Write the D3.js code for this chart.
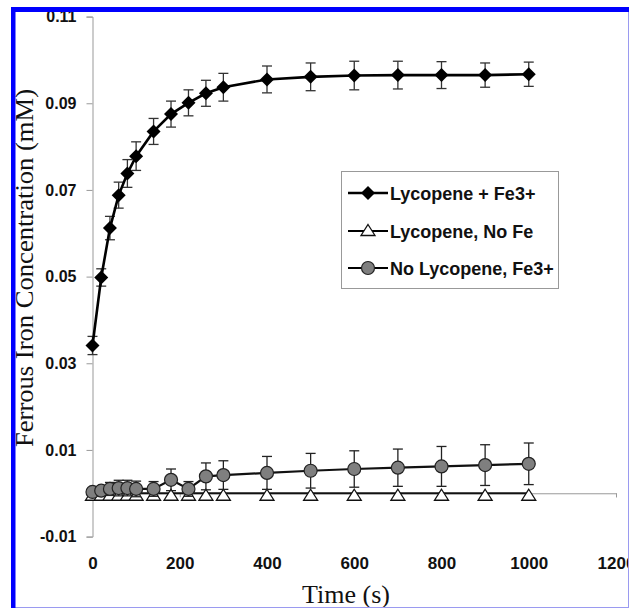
<!DOCTYPE html>
<html>
<head>
<meta charset="utf-8">
<script src="https://cdn.jsdelivr.net/npm/d3@7"></script>
<style>
  body { margin: 0; background: #fff; }
  svg { display: block; }
</style>
</head>
<body>
<div id="plot"></div>
<script>
// time points (s)
var times = [0, 20, 40, 60, 80, 100, 140, 180, 220, 260, 300, 400, 500, 600, 700, 800, 900, 1000];

// Lycopene + Fe3+
var lycFe    = [0.0341, 0.0498, 0.0612, 0.0688, 0.0738, 0.0778, 0.0835, 0.0875, 0.0901, 0.0923, 0.0937, 0.0955, 0.0961, 0.0964, 0.0965, 0.0965, 0.0965, 0.0967];
var lycFeErr = [0.0021, 0.0020, 0.0027, 0.0030, 0.0032, 0.0033, 0.0030, 0.0030, 0.0030, 0.0030, 0.0032, 0.0031, 0.0032, 0.0033, 0.0032, 0.0031, 0.0028, 0.0028];

// Lycopene, No Fe
var lycNoFe    = [0, 0, 0, 0, 0, 0, 0, 0, 0, 0, 0, 0, 0, 0, 0, 0, 0, 0];
var lycNoFeErr = [0, 0, 0, 0, 0, 0, 0, 0, 0, 0, 0, 0, 0, 0, 0, 0, 0, 0];

// No Lycopene, Fe3+
var noLycFe    = [0.0003, 0.0006, 0.0010, 0.0012, 0.0012, 0.0010, 0.0010, 0.0031, 0.0010, 0.0039, 0.0042, 0.0047, 0.0052, 0.0056, 0.0059, 0.0062, 0.0065, 0.0068];
var noLycFeErr = [0.0004, 0.0005, 0.0015, 0.0018, 0.0018, 0.0018, 0.0017, 0.0025, 0.0017, 0.0031, 0.0033, 0.0038, 0.0040, 0.0042, 0.0043, 0.0046, 0.0047, 0.0048];

var seriesNames = ["Lycopene + Fe3+", "Lycopene, No Fe", "No Lycopene, Fe3+"];
var xTicks = [0, 200, 400, 600, 800, 1000, 1200];
var yTicks = [-0.01, 0.01, 0.03, 0.05, 0.07, 0.09, 0.11];

var W = 629, H = 608;

var svg = d3.select("#plot").append("svg")
	.attr("width", W)
	.attr("height", H);

var x = d3.scaleLinear().domain([0, 1200]).range([92.5, 616]);
var y = d3.scaleLinear().domain([-0.01, 0.11]).range([536.6, 16.6]);

var axisColor = "#999";
var tickFont = "'Liberation Sans', Arial, sans-serif";
var serif = "'Liberation Serif', 'Times New Roman', serif";

// y axis
var gy = svg.append("g")
	.attr("transform", "translate(" + x(0) + ",0)")
	.call(d3.axisLeft(y).tickValues(yTicks).tickSize(6).tickPadding(10)
		.tickFormat(function(d) { return d.toFixed(2); }));
gy.selectAll("path, line").attr("stroke", axisColor);
gy.selectAll("text")
	.attr("font-family", tickFont)
	.attr("font-size", 16)
	.attr("font-weight", "bold")
	.attr("fill", "#111");

// x axis at y = 0, labels at the bottom
var gx = svg.append("g")
	.attr("transform", "translate(0," + y(0) + ")")
	.call(d3.axisBottom(x).tickValues(xTicks).tickSize(4).tickSizeOuter(4)
		.tickFormat(function(d) { return String(d); }));
gx.selectAll("path, line").attr("stroke", axisColor);
gx.selectAll("text")
	.attr("y", 569 - y(0))
	.attr("dy", 0)
	.attr("font-family", tickFont)
	.attr("font-size", 17)
	.attr("font-weight", "bold")
	.attr("fill", "#111");

// axis titles
svg.append("text")
	.attr("transform", "translate(33,268) rotate(-90)")
	.attr("text-anchor", "middle")
	.attr("font-family", serif)
	.attr("font-size", 26)
	.attr("textLength", 358)
	.attr("lengthAdjust", "spacingAndGlyphs")
	.attr("fill", "#111")
	.text("Ferrous Iron Concentration (mM)");

svg.append("text")
	.attr("x", 346)
	.attr("y", 603)
	.attr("text-anchor", "middle")
	.attr("font-family", serif)
	.attr("font-size", 26)
	.attr("fill", "#111")
	.text("Time (s)");

// marker shapes
function diamond(s) { return "M0," + (-s) + "L" + s + ",0L0," + s + "L" + (-s) + ",0Z"; }
function triangle(w, h) { return "M0," + (-h / 2) + "L" + (w / 2) + "," + (h / 2) + "L" + (-w / 2) + "," + (h / 2) + "Z"; }

function rows(vals, errs) {
	return times.map(function(t, i) { return {t: t, v: vals[i], e: errs[i]}; });
}

function drawErrors(data, color, width, capW) {
	var g = svg.append("g").attr("stroke", color).attr("stroke-width", width);
	data.filter(function(d) { return d.e > 0; }).forEach(function(d) {
		g.append("line").attr("x1", x(d.t)).attr("x2", x(d.t))
			.attr("y1", y(d.v + d.e)).attr("y2", y(d.v - d.e));
		g.append("line").attr("x1", x(d.t) - capW).attr("x2", x(d.t) + capW)
			.attr("y1", y(d.v + d.e)).attr("y2", y(d.v + d.e));
		g.append("line").attr("x1", x(d.t) - capW).attr("x2", x(d.t) + capW)
			.attr("y1", y(d.v - d.e)).attr("y2", y(d.v - d.e));
	});
}

var line = d3.line().x(function(d) { return x(d.t); }).y(function(d) { return y(d.v); });

var d1 = rows(lycFe, lycFeErr);
var d2 = rows(lycNoFe, lycNoFeErr);
var d3s = rows(noLycFe, noLycFeErr);

// Lycopene + Fe3+
drawErrors(d1, "#333", 1.3, 5);
svg.append("path").datum(d1).attr("d", line)
	.attr("fill", "none").attr("stroke", "#000").attr("stroke-width", 2.6);
svg.append("g").selectAll("path").data(d1).enter().append("path")
	.attr("d", diamond(7))
	.attr("transform", function(d) { return "translate(" + x(d.t) + "," + y(d.v) + ")"; })
	.attr("fill", "#000");

// Lycopene, No Fe
drawErrors(d2, "#222", 1.3, 5);
svg.append("path").datum(d2).attr("d", line)
	.attr("fill", "none").attr("stroke", "#111").attr("stroke-width", 2);
svg.append("g").selectAll("path").data(d2).enter().append("path")
	.attr("d", triangle(14, 11))
	.attr("transform", function(d) { return "translate(" + x(d.t) + "," + (y(d.v) + 1.5) + ")"; })
	.attr("fill", "#fff").attr("stroke", "#111").attr("stroke-width", 1.3);

// No Lycopene, Fe3+
drawErrors(d3s, "#222", 1.3, 5);
svg.append("path").datum(d3s).attr("d", line)
	.attr("fill", "none").attr("stroke", "#111").attr("stroke-width", 2.2);
svg.append("g").selectAll("circle").data(d3s).enter().append("circle")
	.attr("cx", function(d) { return x(d.t); })
	.attr("cy", function(d) { return y(d.v); })
	.attr("r", 6.5)
	.attr("fill", "#7f7f7f").attr("stroke", "#222").attr("stroke-width", 1.2);

// legend
var lg = svg.append("g");
lg.append("rect").attr("x", 341.5).attr("y", 171.5).attr("width", 217).attr("height", 117)
	.attr("fill", "#fff").attr("stroke", "#999");
var legY = [193, 231, 268];
seriesNames.forEach(function(name, i) {
	var cy = legY[i];
	lg.append("line").attr("x1", 348).attr("x2", 388).attr("y1", cy).attr("y2", cy)
		.attr("stroke", "#000").attr("stroke-width", i == 0 ? 2.6 : 2);
	if (i == 0) {
		lg.append("path").attr("d", diamond(7)).attr("transform", "translate(368," + cy + ")").attr("fill", "#000");
	} else if (i == 1) {
		lg.append("path").attr("d", triangle(14, 11)).attr("transform", "translate(368," + (cy - 1) + ")")
			.attr("fill", "#fff").attr("stroke", "#111").attr("stroke-width", 1.3);
	} else {
		lg.append("circle").attr("cx", 368).attr("cy", cy).attr("r", 6.5)
			.attr("fill", "#7f7f7f").attr("stroke", "#222").attr("stroke-width", 1.2);
	}
	lg.append("text").attr("x", 390).attr("y", cy + 6.5)
		.attr("font-family", tickFont).attr("font-size", 18).attr("font-weight", "bold")
		.attr("fill", "#111")
		.text(name);
});

// page frame
svg.append("line").attr("x1", 628.5).attr("x2", 628.5).attr("y1", 7).attr("y2", 608)
	.attr("stroke", "#9a9af0").attr("stroke-width", 1);
svg.append("line").attr("x1", 11).attr("x2", 629).attr("y1", 607.5).attr("y2", 607.5)
	.attr("stroke", "#9a9af0").attr("stroke-width", 1);
svg.append("rect").attr("x", 11).attr("y", 7).attr("width", 618).attr("height", 5).attr("fill", "#0000fe");
svg.append("rect").attr("x", 11).attr("y", 7).attr("width", 4.5).attr("height", 601).attr("fill", "#0000fe");
</script>
</body>
</html>
